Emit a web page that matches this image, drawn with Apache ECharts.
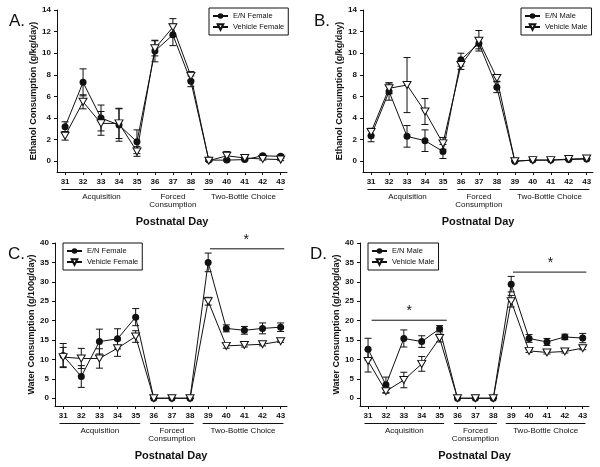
<!DOCTYPE html>
<html>
<head>
<meta charset="utf-8">
<script src="https://cdn.jsdelivr.net/npm/echarts@6/dist/echarts.min.js"></script>
<style>
  html, body { margin: 0; padding: 0; background: #fff; }
  #main { width: 600px; height: 467px; }
</style>
</head>
<body>
<div id="main"></div>
<script>
// postnatal days
var days = [31, 32, 33, 34, 35, 36, 37, 38, 39, 40, 41, 42, 43];

// A. ethanol, female
var ethFemEN     = [3.2, 7.3, 4.0, 3.35, 1.8, 10.2, 11.7, 7.4, 0.1, 0.1, 0.15, 0.5, 0.45];
var ethFemENErr  = [0.45, 1.25, 1.2, 1.5, 1.1, 1.0, 1.0, 0.5, 0.1, 0.1, 0.1, 0.15, 0.15];
var ethFemVeh    = [2.35, 5.5, 3.5, 3.5, 0.9, 10.45, 12.4, 7.9, 0.05, 0.5, 0.3, 0.2, 0.15];
var ethFemVehErr = [0.4, 0.65, 1.1, 1.4, 0.45, 0.7, 0.8, 0.4, 0.05, 0.4, 0.1, 0.1, 0.1];

// B. ethanol, male
var ethMaleEN     = [2.35, 6.45, 2.3, 1.9, 0.9, 9.4, 10.9, 6.85, 0.0, 0.1, 0.1, 0.15, 0.2];
var ethMaleENErr  = [0.55, 0.8, 1.0, 1.0, 0.65, 0.6, 0.5, 0.5, 0.02, 0.05, 0.05, 0.05, 0.05];
var ethMaleVeh    = [2.7, 6.75, 7.05, 4.6, 1.65, 8.9, 11.15, 7.7, 0.0, 0.1, 0.1, 0.2, 0.25];
var ethMaleVehErr = [0.35, 0.5, 2.55, 1.2, 0.55, 0.4, 0.95, 0.3, 0.02, 0.05, 0.05, 0.05, 0.05];

// C. water, female
var watFemEN     = [11.0, 5.6, 14.6, 15.3, 20.9, 0, 0, 0, 35.0, 18.0, 17.5, 18.0, 18.3];
var watFemENErr  = [3.1, 2.8, 3.2, 2.6, 2.2, 0, 0, 0, 2.4, 0.9, 1.0, 1.4, 1.1];
var watFemVeh    = [10.6, 10.25, 10.25, 12.9, 15.9, 0, 0, 0, 25.0, 13.5, 13.7, 13.9, 14.7];
var watFemVehErr = [2.5, 2.6, 2.5, 2.1, 1.5, 0, 0, 0, 1.0, 0.6, 0.5, 0.4, 0.3];

// D. water, male
var watMaleEN     = [12.65, 3.45, 15.4, 14.6, 17.9, 0, 0, 0, 29.4, 15.4, 14.5, 15.8, 15.5];
var watMaleENErr  = [2.8, 2.0, 2.2, 1.5, 0.8, 0, 0, 0, 2.0, 1.0, 0.9, 0.7, 1.2];
var watMaleVeh    = [9.6, 1.8, 4.7, 8.85, 15.5, 0, 0, 0, 25.0, 12.2, 11.8, 12.05, 12.9];
var watMaleVehErr = [2.85, 0.5, 2.0, 1.9, 1.0, 0, 0, 0, 1.5, 0.4, 0.4, 0.4, 0.4];

var ethTicks = [0, 2, 4, 6, 8, 10, 12, 14];
var watTicks = [0, 5, 10, 15, 20, 25, 30, 35, 40];

var groupNames = ['Acquisition', 'Forced\nConsumption', 'Two-Bottle Choice'];
var groupSpans = [[30.8, 35.25], [35.8, 38.2], [38.7, 43.15]];

var FONT = 'Liberation Sans, Arial, sans-serif';
var INK = '#111';

var panels = [
  { letter: 'A.', grid: { left: 57, top: 10, width: 230, height: 162 }, yMin: -1, yMax: 14, ticks: ethTicks,
    yName: 'Ethanol Consumption (g/kg/day)', names: ['E/N Female', 'Vehicle Female'],
    en: ethFemEN, enErr: ethFemENErr, veh: ethFemVeh, vehErr: ethFemVehErr,
    legend: { left: 209, top: 8 }, letterPos: { left: 4, top: 8 } },
  { letter: 'B.', grid: { left: 363, top: 10, width: 230, height: 162 }, yMin: -1, yMax: 14, ticks: ethTicks,
    yName: 'Ethanol Consumption (g/kg/day)', names: ['E/N Male', 'Vehicle Male'],
    en: ethMaleEN, enErr: ethMaleENErr, veh: ethMaleVeh, vehErr: ethMaleVehErr,
    legend: { left: 521, top: 8 }, letterPos: { left: 309, top: 8 } },
  { letter: 'C.', grid: { left: 55, top: 243, width: 232, height: 163 }, yMin: -2, yMax: 40, ticks: watTicks,
    yName: 'Water Consumption (g/100g/day)', names: ['E/N Female', 'Vehicle Female'],
    en: watFemEN, enErr: watFemENErr, veh: watFemVeh, vehErr: watFemVehErr,
    legend: { left: 63, top: 243 }, letterPos: { left: 3, top: 241 } },
  { letter: 'D.', grid: { left: 360, top: 243, width: 229, height: 163 }, yMin: -2, yMax: 40, ticks: watTicks,
    yName: 'Water Consumption (g/100g/day)', names: ['E/N Male', 'Vehicle Male'],
    en: watMaleEN, enErr: watMaleENErr, veh: watMaleVeh, vehErr: watMaleVehErr,
    legend: { left: 368, top: 243 }, letterPos: { left: 305, top: 241 } }
];

// significance bars: panel index, x span, y level, star position
var sigBars = [
  { panel: 2, from: 39.1, to: 43.2, y: 38.5, starX: 41.1, starY: 40.8 },
  { panel: 3, from: 31.2, to: 35.4, y: 20.1, starX: 33.3, starY: 22.4 },
  { panel: 3, from: 39.1, to: 43.2, y: 32.5, starX: 41.2, starY: 34.8 }
];

var downTri = 'path://M0,0 L10,0 L5,9 Z';

function errData(vals, errs) {
  return days.map(function (d, i) { return [d, vals[i] - errs[i], vals[i] + errs[i]]; });
}

function renderErr(params, api) {
  var lo = api.coord([api.value(0), api.value(1)]);
  var hi = api.coord([api.value(0), api.value(2)]);
  var w = 3.5;
  var st = { stroke: INK, lineWidth: 1 };
  return {
    type: 'group',
    children: [
      { type: 'line', shape: { x1: lo[0], y1: lo[1], x2: hi[0], y2: hi[1] }, style: st },
      { type: 'line', shape: { x1: hi[0] - w, y1: hi[1], x2: hi[0] + w, y2: hi[1] }, style: st },
      { type: 'line', shape: { x1: lo[0] - w, y1: lo[1], x2: lo[0] + w, y2: lo[1] }, style: st }
    ]
  };
}

var grids = [], xAxes = [], yAxes = [], series = [], legends = [], titles = [];

panels.forEach(function (p, i) {
  grids.push(p.grid);
  xAxes.push({
    type: 'value', gridIndex: i, min: 30.55, max: 43.35,
    name: 'Postnatal Day', nameLocation: 'middle', nameGap: 44,
    nameTextStyle: { fontFamily: FONT, fontWeight: 'bold', fontSize: 11, color: INK },
    axisLine: { onZero: false, lineStyle: { color: INK, width: 1 } },
    axisTick: { customValues: days, length: 3, lineStyle: { color: INK } },
    axisLabel: { customValues: days, margin: 6, fontFamily: FONT, fontWeight: 'bold', fontSize: 8, color: INK },
    splitLine: { show: false }
  });
  yAxes.push({
    type: 'value', gridIndex: i, min: p.yMin, max: p.yMax,
    name: p.yName, nameLocation: 'middle', nameGap: 19,
    nameTextStyle: { fontFamily: FONT, fontWeight: 'bold', fontSize: 9, color: INK },
    axisLine: { show: true, onZero: false, lineStyle: { color: INK, width: 1 } },
    axisTick: { show: true, customValues: p.ticks, length: 3, lineStyle: { color: INK } },
    axisLabel: { customValues: p.ticks, margin: 6, fontFamily: FONT, fontWeight: 'bold', fontSize: 8, color: INK },
    splitLine: { show: false }
  });
  series.push({
    type: 'custom', xAxisIndex: i, yAxisIndex: i, renderItem: renderErr,
    data: errData(p.en, p.enErr), encode: { x: 0, y: [1, 2] }, z: 2, silent: true
  });
  series.push({
    type: 'custom', xAxisIndex: i, yAxisIndex: i, renderItem: renderErr,
    data: errData(p.veh, p.vehErr), encode: { x: 0, y: [1, 2] }, z: 2, silent: true
  });
  series.push({
    name: p.names[0], type: 'line', xAxisIndex: i, yAxisIndex: i,
    data: days.map(function (d, k) { return [d, p.en[k]]; }),
    symbol: 'circle', symbolSize: 7,
    lineStyle: { color: INK, width: 1 },
    itemStyle: { color: INK, borderColor: INK, borderWidth: 0 },
    z: 3, animation: false
  });
  series.push({
    name: p.names[1], type: 'line', xAxisIndex: i, yAxisIndex: i,
    data: days.map(function (d, k) { return [d, p.veh[k]]; }),
    symbol: downTri, symbolSize: [8, 7], symbolKeepAspect: false,
    lineStyle: { color: INK, width: 1 },
    itemStyle: { color: '#fff', borderColor: INK, borderWidth: 1 },
    z: 4, animation: false
  });
  legends.push({
    data: p.names, orient: 'vertical', left: p.legend.left, top: p.legend.top,
    padding: [4, 4, 4, 3], itemGap: 3, itemWidth: 15, itemHeight: 7,
    borderColor: INK, borderWidth: 1, backgroundColor: '#fff',
    selectedMode: false,
    textStyle: { fontFamily: FONT, fontSize: 7.5, color: INK }
  });
  titles.push({
    text: p.letter, left: p.letterPos.left, top: p.letterPos.top,
    textStyle: { fontFamily: FONT, fontWeight: 'normal', fontSize: 17, color: INK }
  });
});

var chart = echarts.init(document.getElementById('main'), null, { renderer: 'canvas' });
chart.setOption({
  animation: false,
  backgroundColor: '#fff',
  title: titles,
  legend: legends,
  grid: grids,
  xAxis: xAxes,
  yAxis: yAxes,
  series: series
});

// group brackets under the x axis and significance bars
var graphics = [];
panels.forEach(function (p, i) {
  var bottom = chart.convertToPixel({ yAxisIndex: i }, p.yMin);
  groupNames.forEach(function (name, g) {
    var x1 = chart.convertToPixel({ xAxisIndex: i }, groupSpans[g][0]);
    var x2 = chart.convertToPixel({ xAxisIndex: i }, groupSpans[g][1]);
    graphics.push({
      type: 'line', shape: { x1: x1, y1: bottom + 17.5, x2: x2, y2: bottom + 17.5 },
      style: { stroke: INK, lineWidth: 1 }, silent: true
    });
    graphics.push({
      type: 'text', x: (x1 + x2) / 2, y: bottom + 21,
      style: { text: name, fontFamily: FONT, fontSize: 8, fill: INK, align: 'center', verticalAlign: 'top', lineHeight: 8 },
      silent: true
    });
  });
});
sigBars.forEach(function (s) {
  var a = chart.convertToPixel({ xAxisIndex: s.panel, yAxisIndex: s.panel }, [s.from, s.y]);
  var b = chart.convertToPixel({ xAxisIndex: s.panel, yAxisIndex: s.panel }, [s.to, s.y]);
  var c = chart.convertToPixel({ xAxisIndex: s.panel, yAxisIndex: s.panel }, [s.starX, s.starY]);
  graphics.push({
    type: 'line', shape: { x1: a[0], y1: a[1], x2: b[0], y2: b[1] },
    style: { stroke: INK, lineWidth: 1 }, silent: true
  });
  graphics.push({
    type: 'text', x: c[0], y: c[1],
    style: { text: '*', fontFamily: FONT, fontSize: 14, fill: INK, align: 'center', verticalAlign: 'middle' },
    silent: true
  });
});
chart.setOption({ graphic: graphics });
</script>
</body>
</html>
